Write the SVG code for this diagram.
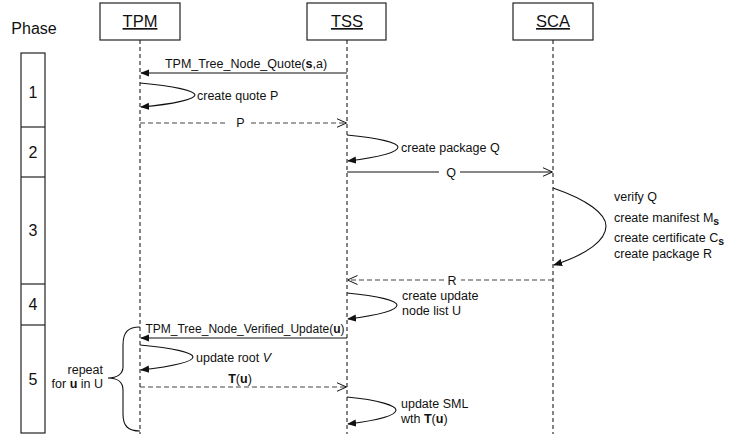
<svg xmlns="http://www.w3.org/2000/svg" width="729" height="441" viewBox="0 0 729 441">
<defs>
<style>
text{font-family:"Liberation Sans",Arial,sans-serif;fill:#111;}
.hd{font-size:16.5px;text-anchor:middle;text-decoration:underline;}
.ph{font-size:16px;text-anchor:middle;}
.m{font-size:12.5px;}
.mc{font-size:12.5px;text-anchor:middle;}
.box{fill:#fff;stroke:#222;stroke-width:1.2;}
.life{stroke:#333;stroke-width:1.2;stroke-dasharray:4,3;fill:none;}
.sol{stroke:#111;stroke-width:1.1;fill:none;}
.dsh{stroke:#444;stroke-width:1.1;stroke-dasharray:5,3;fill:none;}
</style>
<marker id="fa" viewBox="0 0 10 10" refX="9" refY="5" markerWidth="9" markerHeight="9" markerUnits="userSpaceOnUse" orient="auto">
<path d="M0,1 L10,5 L0,9 Z" fill="#111"/>
</marker>
<marker id="oa" viewBox="0 0 10 10" refX="9.5" refY="5" markerWidth="10" markerHeight="10" markerUnits="userSpaceOnUse" orient="auto">
<path d="M0,0.5 L10,5 L0,9.5" fill="none" stroke="#111" stroke-width="1"/>
</marker>
</defs>
<rect width="729" height="441" fill="#fff"/>

<g id="phase">
<text x="34" y="34" class="ph">Phase</text>
<rect x="21" y="53" width="24" height="380" class="box"/>
<line x1="21" y1="127" x2="45" y2="127" stroke="#222" stroke-width="1.2"/>
<line x1="21" y1="177" x2="45" y2="177" stroke="#222" stroke-width="1.2"/>
<line x1="21" y1="284" x2="45" y2="284" stroke="#222" stroke-width="1.2"/>
<line x1="21" y1="325" x2="45" y2="325" stroke="#222" stroke-width="1.2"/>
<text x="33" y="98" class="ph">1</text>
<text x="33" y="158" class="ph">2</text>
<text x="33" y="236" class="ph">3</text>
<text x="33" y="310" class="ph">4</text>
<text x="33" y="385" class="ph">5</text>
</g>

<g id="tpm">
<line x1="140" y1="40" x2="140" y2="434" class="life"/>
<rect x="100" y="3" width="80" height="37" class="box"/>
<text x="140" y="27" class="hd">TPM</text>
</g>
<g id="tss">
<line x1="347" y1="40" x2="347" y2="434" class="life"/>
<rect x="307" y="3" width="79" height="37" class="box"/>
<text x="347" y="27" class="hd">TSS</text>
</g>
<g id="sca">
<line x1="553" y1="40" x2="553" y2="434" class="life"/>
<rect x="513" y="3" width="80" height="37" class="box"/>
<text x="553" y="27" class="hd">SCA</text>
</g>

<g id="connectors">
<line x1="347" y1="73" x2="141" y2="73" class="sol" marker-end="url(#fa)"/>
<text x="246" y="68" class="mc">TPM_Tree_Node_Quote(<tspan font-weight="bold">s</tspan>,a)</text>

<path d="M140,83 C175,86 195,91 195,95 C195,99 175,104 141,107" class="sol" marker-end="url(#fa)"/>
<text x="197" y="100" class="m">create quote P</text>

<line x1="140" y1="123" x2="228" y2="123" class="dsh"/>
<line x1="251" y1="123" x2="346" y2="123" class="dsh" marker-end="url(#oa)"/>
<text x="240.5" y="127" class="mc">P</text>

<path d="M347,135 C380,138 398,143 398,147 C398,152 380,157 348,161" class="sol" marker-end="url(#fa)"/>
<text x="401" y="152" class="m">create package Q</text>

<line x1="347" y1="172" x2="439" y2="172" class="sol"/>
<line x1="460" y1="172" x2="552" y2="172" class="sol" marker-end="url(#oa)"/>
<text x="451" y="176.5" class="mc">Q</text>

<path d="M553,188 C588,200 606,214 606,226 C606,240 588,254 554,265" class="sol" marker-end="url(#fa)"/>
<text x="614" y="201" class="m">verify Q</text>
<text x="614" y="222" class="m">create manifest M<tspan font-weight="bold" font-size="10.5px" dy="3">s</tspan></text>
<text x="614" y="242" class="m">create certificate C<tspan font-weight="bold" font-size="10.5px" dy="3">s</tspan></text>
<text x="614" y="258" class="m">create package R</text>

<line x1="553" y1="280" x2="461" y2="280" class="dsh"/>
<line x1="444" y1="280" x2="348" y2="280" class="dsh" marker-end="url(#oa)"/>
<text x="452" y="284.5" class="mc">R</text>

<path d="M347,293 C380,296 397,301 397,305 C397,310 380,315 348,319" class="sol" marker-end="url(#fa)"/>
<text x="402" y="300" class="m">create update</text>
<text x="402" y="315" class="m">node list U</text>

<line x1="347" y1="338" x2="141" y2="338" class="sol" marker-end="url(#fa)"/>
<text x="245" y="333" class="mc" style="font-size:12px">TPM_Tree_Node_Verified_Update(<tspan font-weight="bold">u</tspan>)</text>

<path d="M140,345 C175,348 193,353 193,357 C193,362 175,366 141,370" class="sol" marker-end="url(#fa)"/>
<text x="196" y="362" class="m">update root <tspan font-style="italic">V</tspan></text>

<line x1="140" y1="387" x2="346" y2="387" class="dsh" marker-end="url(#oa)"/>
<text x="240" y="383" class="mc"><tspan font-weight="bold">T</tspan>(<tspan font-weight="bold">u</tspan>)</text>

<path d="M347,397 C380,400 396,406 396,410 C396,415 380,420 348,424" class="sol" marker-end="url(#fa)"/>
<text x="401" y="408" class="m">update SML</text>
<text x="401" y="423" class="m">wth <tspan font-weight="bold">T</tspan>(<tspan font-weight="bold">u</tspan>)</text>

<path d="M140,327 C128,327 123,332 123,345 L123,367 C123,374 117,378 108,378 C117,378 123,382 123,390 L123,414 C123,426 128,431 140,431" class="sol"/>
<text x="103" y="374" class="m" text-anchor="end">repeat</text>
<text x="103" y="388" class="m" text-anchor="end">for <tspan font-weight="bold">u</tspan> in U</text>
</g>
</svg>
